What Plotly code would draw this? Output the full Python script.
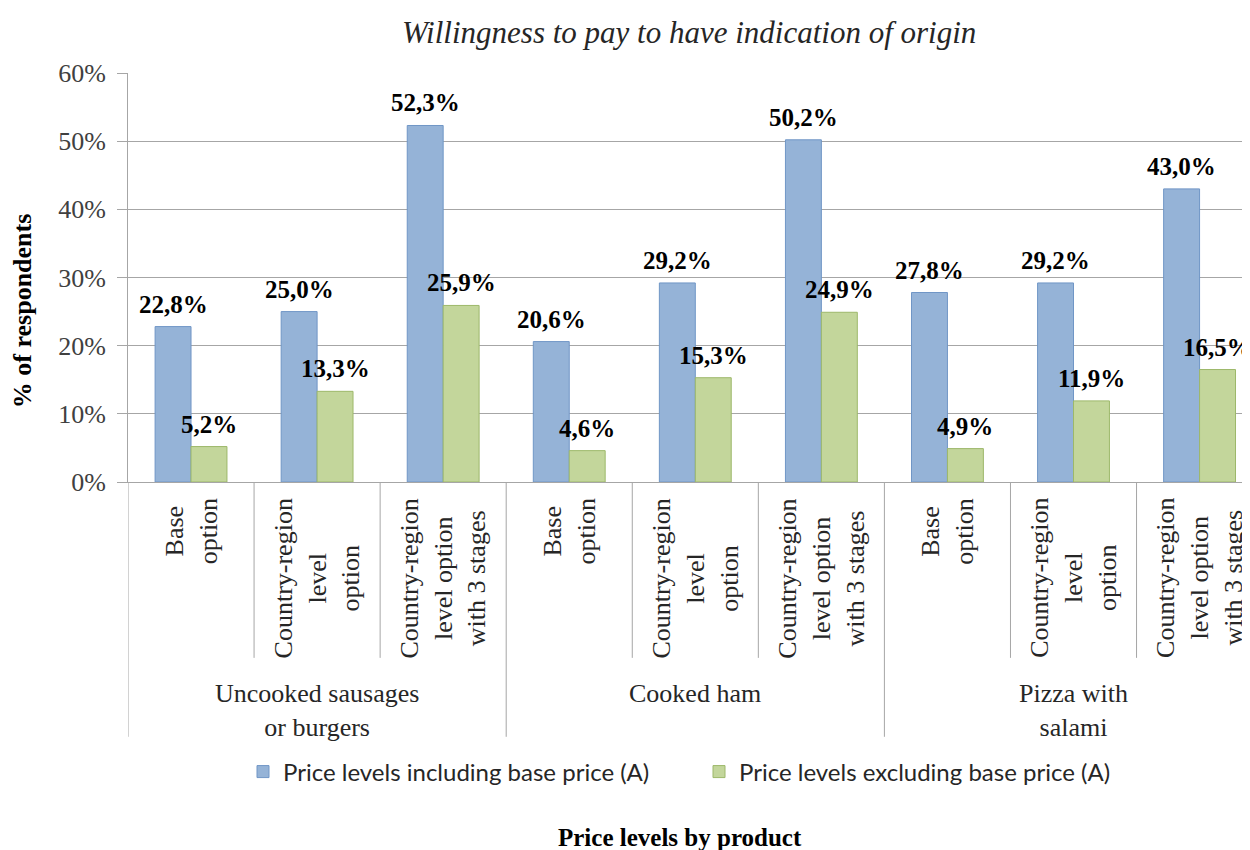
import plotly.graph_objects as go

# Data
products = ["Uncooked sausages<br>or burgers", "Cooked ham", "Pizza with<br>salami"]
options = ["Base<br>option",
           "Country-region<br>level<br>option",
           "Country-region<br>level option<br>with 3 stages"]
incl_base = [22.8, 25.0, 52.3, 20.6, 29.2, 50.2, 27.8, 29.2, 43.0]
excl_base = [5.2, 13.3, 25.9, 4.6, 15.3, 24.9, 4.9, 11.9, 16.5]
series_names = ["Price levels including base price (A)",
                "Price levels excluding base price (A)"]

SERIF = "Liberation Serif, Times New Roman, serif"
SANS = "Lato, Calibri, sans-serif"
BAR_GAP = 0.43
bar_w = (1 - BAR_GAP) / 2

n_opt = len(options)
x_pos = list(range(len(products) * n_opt))
tick_text = options * len(products)


def fmt(v):
    return f"{v:.1f}%".replace(".", ",")


fig = go.Figure()
fig.add_trace(go.Bar(
    x=x_pos, y=incl_base, name=series_names[0],
    marker=dict(color="#95B3D7", line=dict(color="#7096C6", width=1)),
))
fig.add_trace(go.Bar(
    x=x_pos, y=excl_base, name=series_names[1],
    marker=dict(color="#C3D69B", line=dict(color="#9DB86A", width=1)),
))

annotations = []

# data labels above each bar
for vals, shift in [(incl_base, -bar_w / 2), (excl_base, bar_w / 2)]:
    for i, v in zip(x_pos, vals):
        annotations.append(dict(
            x=i + shift, y=v, xref="x", yref="y", text=fmt(v),
            showarrow=False, yanchor="bottom", yshift=7,
            font=dict(family=SERIF, size=25, color="#000000", weight="bold"),
        ))

# rotated option labels
for i, t in zip(x_pos, tick_text):
    annotations.append(dict(
        x=i, y=-0.035, xref="x", yref="paper", text=t, textangle=-90,
        showarrow=False, yanchor="top", align="center",
        font=dict(family=SERIF, size=26, color="#262626"),
    ))

# product group labels
for g, p in enumerate(products):
    annotations.append(dict(
        x=g * n_opt + (n_opt - 1) / 2, y=-0.477, xref="x", yref="paper", text=p,
        showarrow=False, yanchor="top", align="center",
        font=dict(family=SERIF, size=26, color="#262626"),
    ))

# titles
annotations.append(dict(
    x=0.5, y=1.100, xref="paper", yref="paper", showarrow=False,
    xanchor="center", yanchor="middle",
    text="<i>Willingness to pay to have indication of origin</i>",
    font=dict(family=SERIF, size=31, color="#262626"),
))
annotations.append(dict(
    x=-0.0945, y=0.42, xref="paper", yref="paper", showarrow=False,
    xanchor="center", yanchor="middle",
    text="<b>% of respondents</b>", textangle=-90,
    font=dict(family=SERIF, size=26, color="#000000"),
))
annotations.append(dict(
    x=0.492, y=-0.870, xref="paper", yref="paper", showarrow=False,
    xanchor="center", yanchor="middle",
    text="<b>Price levels by product</b>",
    font=dict(family=SERIF, size=25, color="#000000"),
))

# category separators below the axis
shapes = [dict(type="line", xref="x", yref="paper", x0=-0.5, x1=-0.5,
               y0=0, y1=-0.623, line=dict(color="#A6A6A6", width=1))]
for i in x_pos[:-1]:
    long_line = (i + 1) % n_opt == 0
    shapes.append(dict(
        type="line", xref="x", yref="paper", x0=i + 0.5, x1=i + 0.5,
        y0=0, y1=-0.623 if long_line else -0.430,
        line=dict(color="#A6A6A6", width=1),
    ))

# page body has an 8px margin, so margins are shifted to compensate
fig.update_layout(
    width=1250, height=850,
    margin=dict(l=120, r=8, t=65, b=376),
    paper_bgcolor="white", plot_bgcolor="white",
    barmode="group", bargap=BAR_GAP, bargroupgap=0,
    showlegend=True,
    legend=dict(orientation="h", x=0.1025, xanchor="left", y=-0.709,
                yanchor="middle", font=dict(family=SANS, size=24, color="#262626"),
                itemwidth=30, entrywidth=411, traceorder="normal"),
    annotations=annotations,
    shapes=shapes,
    xaxis=dict(range=[-0.5, 8.4], showticklabels=False, showgrid=False,
               zeroline=False, showline=True, linecolor="#A6A6A6", ticks=""),
    yaxis=dict(range=[0, 60], dtick=10, ticksuffix="%", showgrid=True,
               gridcolor="#A6A6A6", gridwidth=1, zeroline=False,
               showline=True, linecolor="#A6A6A6", ticks="outside",
               ticklen=10, tickcolor="#A6A6A6", ticklabelstandoff=6,
               tickfont=dict(family=SERIF, size=26, color="#404040")),
)

fig.write_html("out.html")
